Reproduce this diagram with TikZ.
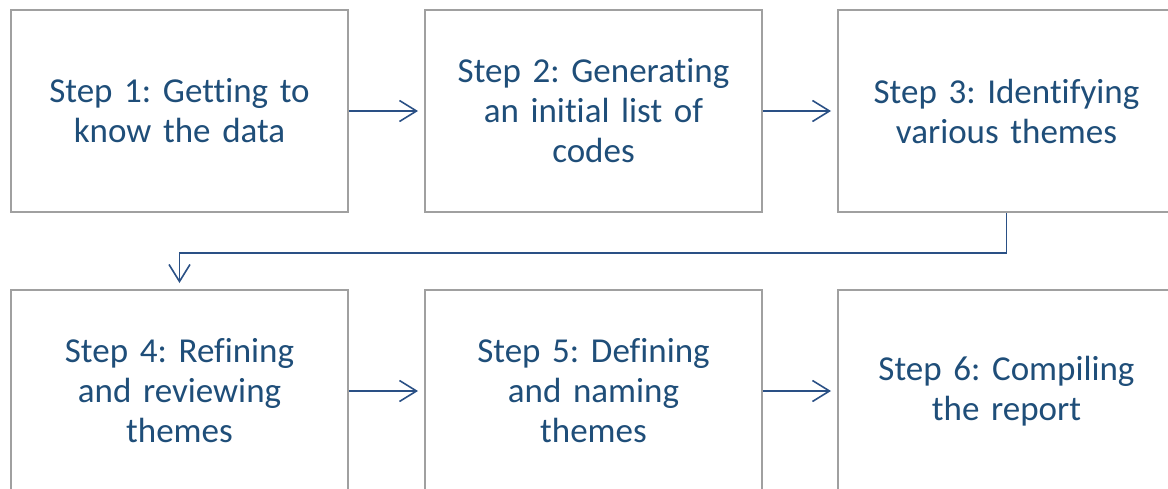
\documentclass[tikz,border=0pt]{standalone}
\usepackage{fontspec}
\setmainfont[Ligatures=NoCommon]{Carlito}
\usetikzlibrary{arrows.meta}
\definecolor{txtblue}{HTML}{1F4E79}
\definecolor{arrblue}{HTML}{2A5085}
\definecolor{boxgray}{HTML}{A0A0A0}
\begin{document}
\frenchspacing
\begin{tikzpicture}[x=1pt,y=-1pt,
  stepbox/.style={draw=boxgray, line width=2pt, fill=white,
    minimum width=337pt, minimum height=202pt, inner sep=0pt,
    align=center, text width=320pt, text=txtblue,
    font=\fontsize{35}{40}\selectfont},
  conn/.style={draw=arrblue, line width=1.6pt,
    -{Straight Barb[length=17pt,width=21pt,line width=1.6pt]},
    shorten >=6pt}]
\useasboundingbox (0,0) rectangle (1168,488);
\node[stepbox] (s1) at (179.5,111) {Step 1: Getting to\\know the data};
\node[stepbox] (s2) at (593.5,111) {Step 2: Generating\\an initial list of\\codes};
\node[stepbox] (s3) at (1006.5,111) {Step 3: Identifying\\various themes};
\node[stepbox] (s4) at (179.5,391) {Step 4: Refining\\and reviewing\\themes};
\node[stepbox] (s5) at (593.5,391) {Step 5: Defining\\and naming\\themes};
\node[stepbox] (s6) at (1006.5,391) {Step 6: Compiling\\the report};
\draw[conn] (s1.east) -- (s2.west);
\draw[conn] (s2.east) -- (s3.west);
\draw[conn] (s4.east) -- (s5.west);
\draw[conn] (s5.east) -- (s6.west);
\draw[conn] (s3.south) -- ++(0,40) -| (s4.north);
\end{tikzpicture}
\end{document}
